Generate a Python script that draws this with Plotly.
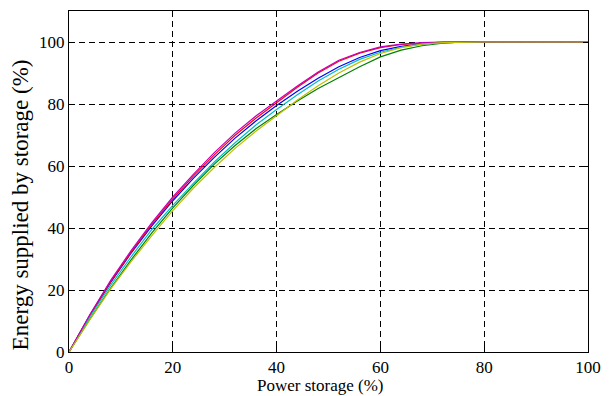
import plotly.graph_objects as go

x_vals = [0, 4, 8, 12, 16, 20, 24, 28, 32, 36, 40, 44, 48, 52, 56, 60, 64, 68, 72, 76, 80, 100]

green = [0, 10.5, 20.5, 29.8, 38.5, 46.5, 53.8, 60.6, 66.6, 72.0, 76.6, 81.0, 85.0, 88.6, 92.0, 95.2, 97.4, 98.8, 99.6, 100, 100, 100]
yellow = [0, 10.4, 20.3, 29.2, 37.6, 45.6, 52.9, 59.5, 65.7, 71.2, 76.2, 81.3, 85.9, 90.0, 93.5, 96.3, 98.2, 99.3, 99.8, 100, 100, 100]
cyan = [0, 11.3, 21.5, 30.8, 39.6, 47.3, 54.5, 61.3, 67.5, 73.2, 78.2, 83.0, 87.4, 91.2, 94.4, 96.7, 98.3, 99.3, 99.8, 100, 100, 100]
blue = [0, 11.7, 22.4, 32.0, 40.8, 48.8, 56.1, 62.8, 69.0, 74.5, 79.5, 84.1, 88.3, 92.0, 95.0, 97.2, 98.6, 99.4, 99.8, 100, 100, 100]
magenta = [0, 12.0, 23.0, 32.8, 41.8, 50.0, 57.4, 64.3, 70.6, 76.1, 81.0, 85.8, 90.3, 94.1, 96.6, 98.4, 99.3, 99.8, 100, 100, 100, 100]
red = [0, 11.8, 22.6, 32.3, 41.3, 49.4, 56.8, 63.6, 69.9, 75.4, 80.4, 85.4, 90.0, 93.8, 96.4, 98.2, 99.2, 99.7, 100, 100, 100, 100]

series = [
    ("blue", blue, "#0000FF"),
    ("green", green, "#008000"),
    ("red", red, "#FF0000"),
    ("cyan", cyan, "#00BFBF"),
    ("magenta", magenta, "#BF00BF"),
    ("yellow", yellow, "#BFBF00"),
]

x_ticks = [0, 20, 40, 60, 80, 100]
y_ticks = [0, 20, 40, 60, 80, 100]
x_title = "Power storage (%)"
y_title = "Energy supplied by storage (%)"

fig = go.Figure()
for name, ys, col in series:
    fig.add_trace(go.Scatter(x=x_vals, y=ys, mode="lines", name=name,
                             line=dict(color=col, width=1.2)))

font = dict(family="Liberation Serif", size=17, color="black")
ytitle_font = dict(family="Liberation Serif", size=23, color="black")

axis_common = dict(
    showline=True, linecolor="black", linewidth=1, mirror="ticks",
    ticks="inside", ticklen=5, tickcolor="black", tickwidth=1,
    showgrid=True, gridcolor="black", gridwidth=1, griddash="6px,4px",
    zeroline=False, tickfont=font, automargin=False,
)

fig.update_layout(
    width=610, height=396,
    margin=dict(l=69, r=22, t=11, b=44),
    paper_bgcolor="white", plot_bgcolor="white",
    showlegend=False,
    font=font,
    xaxis=dict(range=[0, 100], tickvals=x_ticks, **axis_common),
    yaxis=dict(range=[0, 110], tickvals=y_ticks, **axis_common),
    annotations=[
        dict(text=x_title, xref="paper", yref="paper", x=0.4855, y=-0.097,
             xanchor="center", yanchor="middle", showarrow=False, font=font),
        dict(text=y_title, xref="paper", yref="paper", x=-0.0944, y=0.43,
             xanchor="center", yanchor="middle", showarrow=False,
             textangle=-90, font=ytitle_font),
    ],
)

fig.write_html("out.html", config={"displayModeBar": False},
               post_script="document.body.style.margin='0';")
